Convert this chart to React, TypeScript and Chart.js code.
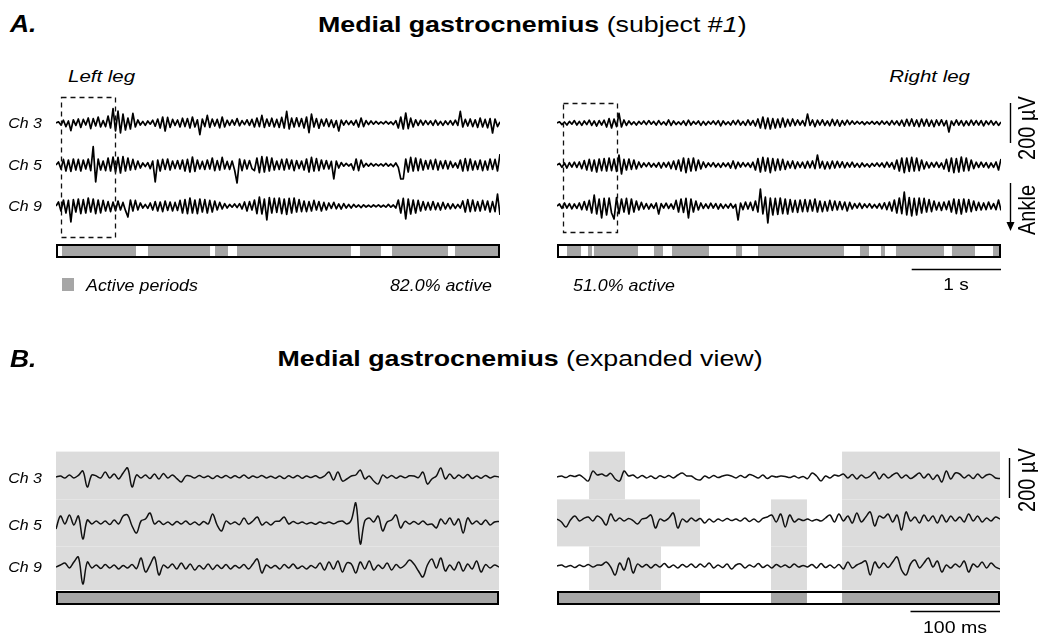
import React, { useEffect, useRef } from "react";
import { Chart, registerables } from "chart.js";

Chart.register(...registerables);

const FONT = '"Liberation Sans", Arial, Helvetica, sans-serif';
const GREY_BAR = "#a6a6a6";
const GREY_SHADE = "#dcdcdc";

type Seg = [number, number];

const CHANNELS = ["Ch 3", "Ch 5", "Ch 9"];
const PERCENT_LABELS = ["82.0% active", "51.0% active"];

// ---------- Panel A (5 s window, one value per 1/36 s, µV) ----------
const A_LEFT_CH3 = [
  0, 6, -10, 14, -18, 10, -38, 16, -12, 20,
  -22, 18, -10, 25, -28, 22, -15, 30, -20, 12,
  -18, 35, -25, 72, -40, 60, -50, 45, -35, 25,
  -30, 48, -20, 15, -10, 8, -12, 10, -6, 14,
  -16, 20, -25, 30, -40, 28, -22, 18, -12, 15,
  -20, 24, -18, 22, -25, 30, -20, 16, -58, 20,
  -18, 38, -22, 20, -15, 18, -24, 30, -20, 14,
  -12, 15, -10, 22, -14, 12, -8, 16, -12, 18,
  -20, 25, -18, 38, -22, 20, -16, 24, -20, 18,
  -22, 28, -25, 58, -30, 24, -20, 26, -18, 22,
  -25, 30, -48, 44, -20, 22, -26, 18, -15, 20,
  -18, 15, -22, 12, -40, 14, -10, 12, -8, 10,
  -10, 14, -20, 25, -18, 12, -8, 10, -6, 8,
  -5, 6, -4, 8, -5, 6, -8, 12, -25, 30,
  -30, 50, -28, 24, -20, 16, -12, 14, -10, 12,
  -8, 10, -12, 14, -10, 8, -12, 10, -8, 12,
  -10, 14, -12, 58, -20, 18, -15, 20, -18, 16,
  -22, 25, -20, 18, -24, 22, -50, 20, -18, 6,
];
const A_LEFT_CH5 = [
  0, 15, -20, 28, -30, 25, -32, 30, -25, 28,
  -30, 25, -20, 30, -28, 92, -85, 30, -25, 20,
  -28, 35, -30, 40, -35, 38, -40, 42, -30, 35,
  -25, 28, -22, 20, -15, 10, -8, 12, -18, 20,
  -85, 25, -30, 28, -22, 30, -25, 20, -18, 22,
  -20, 25, -30, 28, -35, 40, -32, 25, -20, 18,
  -22, 25, -20, 35, -28, 22, -25, 38, -20, 18,
  -22, 20, -25, -90, 30, -28, 25, -20, 22, -18,
  -28, 35, -38, 42, -35, 40, -30, 35, -25, 20,
  -22, 28, -25, 30, -20, 25, -28, 22, -18, 20,
  -25, 30, -35, 38, -30, 32, -28, 25, -20, 22,
  -20, 18, -70, 20, -15, 12, -6, 8, -5, 6,
  -25, 30, -28, 25, -10, 8, -6, 8, -5, 6,
  -4, 6, -5, 8, -6, 5, -8, 10, -12, -70,
  -70, 30, -35, 38, -30, 35, -28, 30, -25, 22,
  -20, 25, -22, 28, -25, 20, -18, 22, -20, 18,
  -12, 10, -15, 25, -30, 32, -28, 30, -25, 20,
  -22, 25, -28, 20, -25, 30, -22, 28, -30, 55,
];
const A_LEFT_CH9 = [
  0, 20, -25, 30, -35, 28, -80, 32, -30, 35,
  -38, 32, -35, 40, -30, 35, -38, 30, -34, 28,
  -25, 22, -28, 20, -24, 25, -20, 18, -22, -55,
  30, -25, 28, -20, 15, -10, 8, -12, 15, -20,
  22, -25, 20, -28, 25, -22, 20, -25, 18, -22,
  28, -35, 32, -38, 40, -35, 30, -38, 35, -30,
  32, -35, 28, -30, 25, -20, 18, -15, 12, -10,
  8, -6, 10, -8, 12, -15, 20, -25, 22, -20,
  30, -38, 45, -40, 35, -70, 42, -35, 38, -32,
  40, -38, 35, -42, 38, -35, 40, -30, 32, -28,
  25, -28, 22, -25, 28, -20, 22, -25, 18, -20,
  15, -12, 18, -14, 10, -15, 12, -10, 8, -10,
  8, -6, 5, -8, 6, -5, 4, -6, 5, -4,
  6, -5, 4, -6, 8, -6, 5, -10, 30, -35,
  38, -65, 35, -40, 30, -35, 28, -25, 22, -20,
  18, -20, 22, -18, 15, -20, 18, -15, 12, -14,
  10, -12, 8, -10, 25, -30, 32, -28, 30, -25,
  22, -25, 28, -20, 25, -30, 22, -28, 60, -45,
];
const A_RIGHT_CH3 = [
  0, 6, -8, 5, -10, 8, -6, 12, -10, 8,
  -12, 10, -8, 14, -12, 10, -15, 12, -10, 14,
  -20, 22, -25, 20, -18, 48, -20, 15, -12, 10,
  -8, 6, -10, 8, -6, 10, -8, 12, -6, 8,
  -10, 12, -8, 6, -10, 15, -12, 10, -8, 6,
  -8, 10, -12, 14, -10, 8, -6, 10, -12, 8,
  -10, 8, -6, 10, -8, 12, -14, 10, -8, 6,
  -10, 12, -8, 14, -10, 8, -12, 15, -10, 12,
  -15, 20, -25, 30, -28, 25, -30, 22, -25, 20,
  -22, 25, -20, 18, -15, 20, -12, 15, -10, 12,
  -14, 45, -12, 15, -18, 14, -10, 16, -12, 10,
  -14, 18, -12, 15, -16, 12, -10, 14, -8, 10,
  -6, 8, -5, 7, -8, 6, -5, 8, -6, 7,
  -8, 10, -6, 8, -10, 12, -8, 10, -12, 14,
  -16, 18, -14, 20, -16, 15, -18, 20, -15, 18,
  -16, 14, -18, 15, -12, 16, -14, 12, -45, 10,
  -12, 15, -10, 12, -14, 10, -12, 14, -10, 12,
  -10, 12, -14, 10, -8, 12, -10, 8, -12, 5,
];
const A_RIGHT_CH5 = [
  0, 8, -12, 10, -15, 12, -10, 14, -12, 15,
  -18, 22, -25, 28, -30, 25, -35, 30, -28, 32,
  -30, 35, -28, 30, -32, 50, -45, 28, -25, 30,
  -22, 25, -20, 15, -12, 10, -8, 12, -10, 8,
  -10, 12, -15, 12, -10, 14, -18, 20, -22, 25,
  -30, 35, -38, 32, -30, 35, -28, 25, -20, 15,
  -12, 10, -8, 12, -10, 8, -12, 10, -8, 10,
  -15, 20, -18, 14, -10, 12, -8, 10, -12, 14,
  -25, 32, -35, 38, -30, 35, -38, 32, -28, 30,
  -25, 28, -22, 18, -15, 20, -18, 15, -12, 14,
  -16, 18, -14, 20, -18, 50, -15, 18, -20, 15,
  -18, 20, -15, 18, -12, 16, -14, 12, -10, 14,
  -10, 8, -12, 10, -8, 6, -10, 8, -6, 10,
  -8, 10, -12, 14, -10, 12, -20, 25, -30, 35,
  -38, 35, -32, 38, -30, 35, -28, 25, -20, 15,
  -14, 12, -10, 14, -12, 10, -20, 28, -32, 35,
  -38, 32, -35, 40, -30, 35, -28, 25, -18, 14,
  -12, 14, -10, 12, -14, 10, -12, 15, -25, 30,
];
const A_RIGHT_CH9 = [
  0, 10, -12, 15, -10, 12, -14, 10, -12, 15,
  -18, 22, -20, 28, -35, 55, -40, 35, -60, 38,
  -45, 40, -35, -65, 42, -38, 35, -30, 38, -40,
  35, -30, 25, -20, 18, -15, 12, -15, 10, -12,
  15, -40, 12, -10, 14, -12, 10, -15, 28, -30,
  35, -32, 38, -60, 35, -30, 25, -20, 15, -12,
  10, -12, 14, -10, 12, -15, 10, -12, 8, -10,
  12, -10, 8, -70, 15, -18, 20, -15, 18, -22,
  25, -30, 85, -40, 45, -85, 40, -45, 38, -42,
  40, -38, 35, -40, 32, -30, 28, -32, 30, -28,
  32, -28, 30, -25, 35, -30, 25, -28, 22, -25,
  28, -22, 25, -20, 22, -18, 20, -25, 18, -15,
  12, -10, 14, -12, 10, -8, 12, -10, 8, -10,
  12, -14, 16, -18, 20, -25, 30, -35, 40, -38,
  70, -45, 42, -50, 38, -45, 40, -35, 38, -30,
  32, -28, 25, -20, 18, -22, 20, -18, 25, -30,
  35, -38, 32, -40, 35, -30, 32, -28, 25, -22,
  18, -20, 15, -18, 20, -15, 12, -18, 30, -22,
];

// ---------- Panel B (expanded view, one value per 5 ms, µV) ----------
const B_LEFT_CH3 = [
  0, 5, -5, 10, -5, 8, 30, -50, 10, 5,
  -5, 25, -5, 15, -10, 20, 45, -50, 10, -5,
  10, -8, 15, -10, 18, -5, 10, -8, -25, 5,
  5, -5, 8, -3, 5, -8, 6, -4, 8, -5,
  6, -4, 10, -6, 5, -3, 8, -5, 4, -6,
  5, -8, 6, -4, 8, -6, 5, -3, 6, -5,
  5, 25, -15, 25, -20, -10, 5, 10, 35, -10,
  5, -20, -35, 10, -5, 8, -6, 5, -4, 6,
  5, -3, 25, -35, -10, 5, 45, -10, 15, -8,
  10, -5, 12, -8, 5, -6, 8, -5, 4, 0,
];
const B_LEFT_CH5 = [
  -30, 35, -5, 40, -10, 35, -80, 15, -5, 10,
  -5, 10, -8, 15, -5, 35, 40, -15, -50, 10,
  20, 50, -5, 10, -8, 5, -10, 8, -5, 10,
  -8, 5, -10, 8, -5, 45, -10, -40, 10, -5,
  5, -8, 25, -5, 10, 30, -10, 5, -10, 8,
  10, 30, -5, 8, -3, 5, -5, 3, -6, 5,
  -3, 5, -4, 6, 10, -5, 15, 100, -105, 10,
  25, 5, 35, -40, 5, 15, 40, -25, 8, -5,
  8, -6, 10, -8, -5, -25, 20, -5, 25, -10,
  20, -50, 25, -5, 10, -8, 15, -10, 5, 8,
];
const B_LEFT_CH9 = [
  0, 10, 20, -5, 25, 50, -85, 25, -5, 10,
  -8, 12, -5, 10, -10, 8, -5, 12, -8, 45,
  -25, 10, 50, -40, 10, -5, 15, -10, 20, -10,
  15, -15, 8, -10, 15, -12, 10, -8, 12, -10,
  8, -5, 12, -10, 15, 40, -30, 10, -5, 8,
  -10, 12, -5, 15, -8, 5, -10, 8, -5, 20,
  -15, 25, -10, 30, -25, 20, 15, -30, 25, -10,
  30, -15, 10, -8, 20, -15, 12, -5, 10, 35,
  15, -20, -50, 10, 40, -5, 45, -20, 10, -15,
  25, -20, 15, -10, 30, -25, 12, -5, 10, 0,
];
const B_RIGHT_CH3 = [
  0, 5, -3, 8, 2, 10, -5, -20, 30, 10,
  15, 5, 18, -10, -20, 30, 5, 10, -5, 8,
  -5, 5, -8, 6, -3, 8, -5, 10, 20, 5,
  5, -10, -15, 5, -5, 8, -3, 5, 10, 5,
  -5, 8, -3, 12, 5, -5, 10, -8, 5, 0,
  5, 3, -3, 5, -5, 3, -8, 20, 5, -20,
  5, -5, 10, 5, 15, -5, 12, -10, 10, -5,
  5, 25, -10, 15, -5, 10, 20, -5, 10, -8,
  5, 20, -5, 15, -12, 10, -25, 30, -10, 20,
  15, -5, 10, -8, 15, -5, 10, 12, -5, -8,
];
const B_RIGHT_CH5 = [
  5, -10, -35, 0, 20, -5, 8, 15, -5, 20,
  5, -25, 30, -5, 10, -5, 8, -3, -20, 5,
  10, 25, -40, 5, -5, 10, 35, -40, 5, -10,
  10, -5, 8, -15, 5, -10, 5, -5, 8, -3,
  5, -5, 10, -8, 5, -10, 8, 15, 25, -10,
  30, -35, 25, -10, 5, -3, 5, -5, 3, -5,
  10, 25, -10, 30, -5, 20, -15, 35, -10, 15,
  40, -30, 20, 10, 30, -10, 25, -50, 40, -5,
  15, -15, 25, -5, 20, -15, 25, -10, 20, -5,
  15, -10, 30, -5, 20, -10, 10, -5, 15, 5,
];
const B_RIGHT_CH9 = [
  0, 5, -5, 3, -8, 5, -3, 8, -5, 5,
  5, 20, -5, -45, 15, -20, 40, -35, 10, -5,
  8, -10, 8, -5, 12, -8, 5, -10, 8, -5,
  10, -8, 10, -5, 15, -10, 5, -8, 10, -15,
  5, 10, -10, 5, -5, 12, -8, 5, -10, 8,
  -5, 5, -8, 10, -5, 3, -5, 8, -10, 12,
  -8, 5, -10, 8, -15, 20, -10, 5, 15, 25,
  -45, 20, -10, 15, -8, 20, 45, -20, -45, 10,
  30, -10, 15, 40, -5, 25, -30, 5, -10, 10,
  -5, 25, -30, 10, -5, 20, -10, 15, -5, -15,
];

const A_DT = 1 / 36; // s per value
const B_DT = 5; // ms per value
const A_OFFSETS = [10, -200, -405];
const B_LEFT_OFFSETS = [0, -230, -450];
const B_RIGHT_OFFSETS = [0, -215, -445];

// Activity periods (s for A, ms for B)
const A_LEFT_ACTIVE: Seg[] = [
  [0.067, 0.896], [1.03, 1.725], [1.781, 1.926], [2.027, 3.303],
  [3.404, 3.639], [3.763, 4.39], [4.468, 4.95],
];
const A_RIGHT_ACTIVE: Seg[] = [
  [0.112, 0.269], [0.347, 0.392], [0.414, 0.907], [1.086, 1.187],
  [1.288, 1.702], [2.004, 2.072], [2.251, 3.214], [3.393, 3.494],
  [3.628, 3.673], [3.796, 4.334], [4.423, 4.681], [4.883, 4.95],
];
const A_LEFT_WINDOW: Seg = [0.056, 0.661];
const A_RIGHT_WINDOW: Seg = [0.067, 0.672];

const B_LEFT_ACTIVE_ROWS: Seg[][] = [[[0, 495]], [[0, 495]], [[0, 495]]];
const B_LEFT_ACTIVE: Seg[] = [[0, 495]];
const B_RIGHT_ACTIVE_ROWS: Seg[][] = [
  [[35.8, 76.0], [318.5, 495]],
  [[0, 159.8], [239.1, 279.3], [318.5, 495]],
  [[35.8, 116.2], [239.1, 279.3], [318.5, 495]],
];
const B_RIGHT_ACTIVE: Seg[] = [[0, 159.8], [239.1, 279.3], [318.5, 495]];
const B_ROW_BANDS: Seg[] = [[127, -112], [-112, -347], [-347, -565]];

interface PanelSpec {
  traces: number[][];
  offsets: number[];
  dt: number;
  xMax: number;
  yRange: Seg;
  box: { left: number; top: number; width: number; height: number };
  pad: { left: number; right: number; top: number; bottom: number };
  lineWidth: number;
  tension: number;
  color: string;
  active: Seg[];
  bar: Seg;
  rowActive?: Seg[][];
  rowBands?: Seg[];
  win?: { x: Seg; y: Seg };
  vBar?: Seg;
  arrow?: Seg;
  hBar?: { x: Seg; y: number };
}

function decorPlugin(spec: PanelSpec) {
  return {
    id: "emgDecor",
    beforeDatasetsDraw(chart: any) {
      if (!spec.rowActive || !spec.rowBands) return;
      const ctx = chart.ctx;
      const xs = chart.scales.x;
      const ys = chart.scales.y;
      ctx.save();
      ctx.fillStyle = GREY_SHADE;
      spec.rowActive.forEach((segs, r) => {
        const band = spec.rowBands![r];
        const t = ys.getPixelForValue(band[0]);
        const b = ys.getPixelForValue(band[1]);
        segs.forEach(([s, e]) => {
          const l = xs.getPixelForValue(s);
          const rr = xs.getPixelForValue(e);
          ctx.fillRect(l, t, rr - l, b - t);
        });
      });
      ctx.restore();
    },
    afterDatasetsDraw(chart: any) {
      const ctx = chart.ctx;
      const area = chart.chartArea;
      const xs = chart.scales.x;
      const ys = chart.scales.y;
      const x0 = xs.getPixelForValue(0);
      const x1 = xs.getPixelForValue(spec.xMax);
      const bt = ys.getPixelForValue(spec.bar[0]);
      const bb = ys.getPixelForValue(spec.bar[1]);
      ctx.save();
      // activity bar
      ctx.fillStyle = "#fff";
      ctx.fillRect(x0, bt, x1 - x0, bb - bt);
      ctx.fillStyle = GREY_BAR;
      spec.active.forEach(([s, e]) => {
        const l = xs.getPixelForValue(s);
        const r = xs.getPixelForValue(e);
        ctx.fillRect(l, bt, r - l, bb - bt);
      });
      ctx.strokeStyle = "#000";
      ctx.lineWidth = 2;
      ctx.strokeRect(x0 + 1, bt + 1, x1 - x0 - 2, bb - bt - 2);
      // dashed window
      if (spec.win) {
        const l = xs.getPixelForValue(spec.win.x[0]);
        const r = xs.getPixelForValue(spec.win.x[1]);
        const t = ys.getPixelForValue(spec.win.y[0]);
        const b = ys.getPixelForValue(spec.win.y[1]);
        ctx.setLineDash([5, 4]);
        ctx.lineWidth = 1.3;
        ctx.strokeStyle = "#111";
        ctx.strokeRect(Math.round(l) + 0.5, Math.round(t) + 0.5, Math.round(r - l), Math.round(b - t));
        ctx.setLineDash([]);
      }
      const sx = Math.round(area.right + 9) + 0.5;
      ctx.strokeStyle = "#000";
      ctx.fillStyle = "#000";
      ctx.lineWidth = 1.4;
      if (spec.vBar) {
        ctx.beginPath();
        ctx.moveTo(sx, ys.getPixelForValue(spec.vBar[0]));
        ctx.lineTo(sx, ys.getPixelForValue(spec.vBar[1]));
        ctx.stroke();
      }
      if (spec.arrow) {
        const a0 = ys.getPixelForValue(spec.arrow[0]);
        const a1 = ys.getPixelForValue(spec.arrow[1]);
        ctx.beginPath();
        ctx.moveTo(sx, a0);
        ctx.lineTo(sx, a1 - 8);
        ctx.stroke();
        ctx.beginPath();
        ctx.moveTo(sx - 4, a1 - 9);
        ctx.lineTo(sx + 4, a1 - 9);
        ctx.lineTo(sx, a1);
        ctx.closePath();
        ctx.fill();
      }
      if (spec.hBar) {
        const hy = Math.round(ys.getPixelForValue(spec.hBar.y)) + 0.5;
        ctx.beginPath();
        ctx.moveTo(xs.getPixelForValue(spec.hBar.x[0]), hy);
        ctx.lineTo(xs.getPixelForValue(spec.hBar.x[1]), hy);
        ctx.stroke();
      }
      ctx.restore();
    },
  };
}

const A_XMAX = (A_LEFT_CH3.length - 1) * A_DT;
const B_XMAX = (B_LEFT_CH3.length - 1) * B_DT;

const SPEC_A_LEFT: PanelSpec = {
  traces: [A_LEFT_CH3, A_LEFT_CH5, A_LEFT_CH9],
  offsets: A_OFFSETS,
  dt: A_DT,
  xMax: A_XMAX,
  yRange: [-700, 175],
  box: { left: 0, top: 85, width: 510, height: 215 },
  pad: { left: 56, right: 10, top: 5, bottom: 35 },
  lineWidth: 1.7,
  tension: 0,
  color: "#000",
  active: A_LEFT_ACTIVE,
  bar: [-595, -665],
  win: { x: A_LEFT_WINDOW, y: [140, -560] },
};
const SPEC_A_RIGHT: PanelSpec = {
  traces: [A_RIGHT_CH3, A_RIGHT_CH5, A_RIGHT_CH9],
  offsets: A_OFFSETS,
  dt: A_DT,
  xMax: A_XMAX,
  yRange: [-700, 175],
  box: { left: 545, top: 85, width: 493, height: 215 },
  pad: { left: 12, right: 37, top: 5, bottom: 35 },
  lineWidth: 1.7,
  tension: 0,
  color: "#000",
  active: A_RIGHT_ACTIVE,
  bar: [-595, -665],
  win: { x: A_RIGHT_WINDOW, y: [110, -535] },
  vBar: [110, -90],
  arrow: [-290, -530],
  hBar: { x: [A_XMAX - 1, A_XMAX], y: -720 },
};
const SPEC_B_LEFT: PanelSpec = {
  traces: [B_LEFT_CH3, B_LEFT_CH5, B_LEFT_CH9],
  offsets: B_LEFT_OFFSETS,
  dt: B_DT,
  xMax: B_XMAX,
  yRange: [-665, 160],
  box: { left: 0, top: 440, width: 510, height: 204 },
  pad: { left: 56, right: 11, top: 5, bottom: 34 },
  lineWidth: 1.5,
  tension: 0.35,
  color: "#111",
  active: B_LEFT_ACTIVE,
  bar: [-570, -640],
  rowActive: B_LEFT_ACTIVE_ROWS,
  rowBands: B_ROW_BANDS,
};
const SPEC_B_RIGHT: PanelSpec = {
  traces: [B_RIGHT_CH3, B_RIGHT_CH5, B_RIGHT_CH9],
  offsets: B_RIGHT_OFFSETS,
  dt: B_DT,
  xMax: B_XMAX,
  yRange: [-665, 160],
  box: { left: 545, top: 440, width: 493, height: 204 },
  pad: { left: 12, right: 38, top: 5, bottom: 34 },
  lineWidth: 1.5,
  tension: 0.35,
  color: "#111",
  active: B_RIGHT_ACTIVE,
  bar: [-570, -640],
  rowActive: B_RIGHT_ACTIVE_ROWS,
  rowBands: B_ROW_BANDS,
  vBar: [95, -105],
  hBar: { x: [B_XMAX - 100, B_XMAX], y: -670 },
};

function EmgPanel({ spec }: { spec: PanelSpec }) {
  const ref = useRef<HTMLCanvasElement>(null);
  useEffect(() => {
    const canvas = ref.current;
    if (!canvas) return;
    const chart = new Chart(canvas, {
      type: "line",
      data: {
        datasets: spec.traces.map((vals, k) => ({
          label: CHANNELS[k],
          data: vals.map((v, i) => ({ x: i * spec.dt, y: v + spec.offsets[k] })),
          borderColor: spec.color,
          borderWidth: spec.lineWidth,
          borderJoinStyle: "round",
          pointRadius: 0,
          tension: spec.tension,
          fill: false,
        })),
      },
      options: {
        animation: false,
        responsive: false,
        maintainAspectRatio: false,
        events: [],
        layout: { padding: spec.pad },
        scales: {
          x: { type: "linear", display: false, min: 0, max: spec.xMax },
          y: { type: "linear", display: false, min: spec.yRange[0], max: spec.yRange[1] },
        },
        plugins: {
          legend: { display: false },
          tooltip: { enabled: false },
        },
      },
      plugins: [decorPlugin(spec)],
    } as any);
    return () => chart.destroy();
  }, [spec]);
  return (
    <canvas
      ref={ref}
      width={spec.box.width}
      height={spec.box.height}
      style={{
        position: "absolute",
        left: spec.box.left,
        top: spec.box.top,
        width: spec.box.width,
        height: spec.box.height,
      }}
    />
  );
}

function Txt(props: {
  x: number;
  y: number;
  size: number;
  anchor?: "start" | "middle" | "end";
  bold?: boolean;
  italic?: boolean;
  sx?: number;
  children: React.ReactNode;
}) {
  const { x, y, size, anchor = "start", bold, italic, sx = 1, children } = props;
  const tr =
    anchor === "middle"
      ? `translateX(-50%) scaleX(${sx})`
      : anchor === "end"
      ? `translateX(-100%) scaleX(${sx})`
      : `scaleX(${sx})`;
  const origin = anchor === "middle" ? "50% 0" : anchor === "end" ? "100% 0" : "0 0";
  return (
    <div
      style={{
        position: "absolute",
        left: x,
        top: y - 0.847 * size,
        fontFamily: FONT,
        fontSize: size,
        lineHeight: 1,
        fontWeight: bold ? 700 : 400,
        fontStyle: italic ? "italic" : "normal",
        whiteSpace: "nowrap",
        transform: tr,
        transformOrigin: origin,
        color: "#000",
      }}
    >
      {children}
    </div>
  );
}

function VTxt(props: { cx: number; cy: number; size: number; sy?: number; children: React.ReactNode }) {
  const { cx, cy, size, sy = 1, children } = props;
  return (
    <div
      style={{
        position: "absolute",
        left: cx,
        top: cy,
        fontFamily: FONT,
        fontSize: size,
        lineHeight: 1,
        whiteSpace: "nowrap",
        transform: `translate(-50%, -50%) rotate(-90deg) scaleY(${sy})`,
        color: "#000",
      }}
    >
      {children}
    </div>
  );
}

const A_CH_BASELINES = [128, 170, 211];
const B_CH_BASELINES = [483, 530, 572];

export default function App() {
  return (
    <div
      style={{
        position: "absolute",
        left: 0,
        top: 0,
        width: 1038,
        height: 644,
        overflow: "hidden",
        background: "#fff",
      }}
    >
      <EmgPanel spec={SPEC_A_LEFT} />
      <EmgPanel spec={SPEC_A_RIGHT} />
      <EmgPanel spec={SPEC_B_LEFT} />
      <EmgPanel spec={SPEC_B_RIGHT} />

      <Txt x={10} y={32} size={24} bold italic sx={1.1}>A.</Txt>
      <Txt x={318} y={33} size={22.5} sx={1.19}>
        <b>Medial gastrocnemius</b> (subject #<i>1</i>)
      </Txt>
      <Txt x={68} y={82} size={16.5} italic sx={1.24}>Left leg</Txt>
      <Txt x={970} y={82} size={16.5} italic anchor="end" sx={1.24}>Right leg</Txt>
      {CHANNELS.map((c, i) => (
        <Txt key={"a" + c} x={42} y={A_CH_BASELINES[i]} size={14.5} italic anchor="end" sx={1.1}>{c}</Txt>
      ))}
      <div style={{ position: "absolute", left: 62, top: 278, width: 12, height: 13, background: GREY_BAR }} />
      <Txt x={86} y={291} size={16.5} italic sx={1.08}>Active periods</Txt>
      <Txt x={492} y={291} size={16.5} italic anchor="end" sx={1.08}>{PERCENT_LABELS[0]}</Txt>
      <Txt x={573} y={291} size={16.5} italic sx={1.08}>{PERCENT_LABELS[1]}</Txt>
      <Txt x={956} y={290} size={17} anchor="middle" sx={1.12}>1 s</Txt>
      <VTxt cx={1027} cy={128} size={20} sy={1.19}>200 µV</VTxt>
      <VTxt cx={1027} cy={210} size={20} sy={1.19}>Ankle</VTxt>

      <Txt x={10} y={367} size={24} bold italic sx={1.1}>B.</Txt>
      <Txt x={520} y={367} size={22.5} anchor="middle" sx={1.19}>
        <b>Medial gastrocnemius</b> (expanded view)
      </Txt>
      {CHANNELS.map((c, i) => (
        <Txt key={"b" + c} x={42} y={B_CH_BASELINES[i]} size={14.5} italic anchor="end" sx={1.1}>{c}</Txt>
      ))}
      <VTxt cx={1027} cy={480} size={20} sy={1.19}>200 µV</VTxt>
      <Txt x={955} y={633} size={17} anchor="middle" sx={1.15}>100 ms</Txt>
    </div>
  );
}
